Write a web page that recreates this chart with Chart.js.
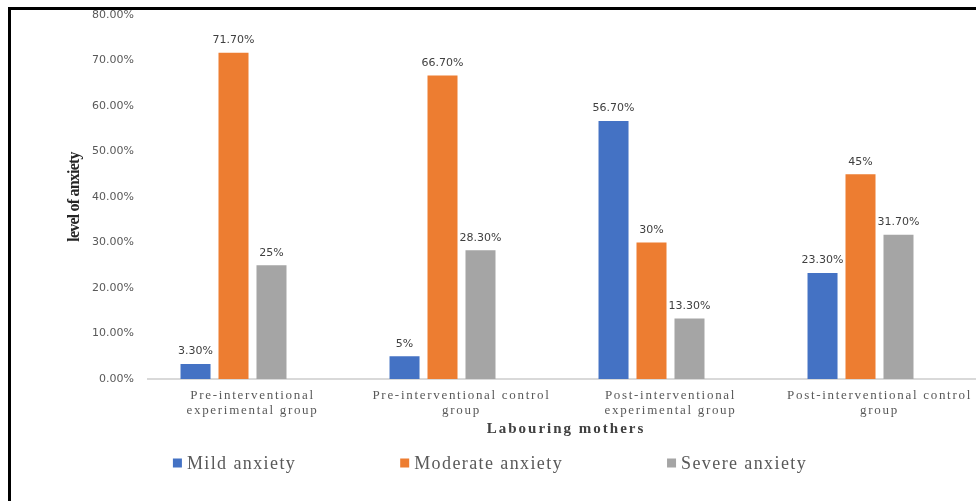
<!DOCTYPE html>
<html>
<head>
<meta charset="utf-8">
<script src="https://cdn.jsdelivr.net/npm/chart.js@4/dist/chart.umd.min.js"></script>
<style>
  html, body { margin: 0; padding: 0; background: #fff; overflow: hidden; }
  #Wrap { position: relative; width: 976px; height: 501px; overflow: hidden; }
  #Frame {
    position: absolute; left: 8px; top: 7px; width: 980px; height: 500px;
    border-left: 3px solid #000; border-top: 3px solid #000;
  }
  #AnxietyChart { position: absolute; left: 0; top: 0; display: block; }
</style>
</head>
<body>
<div id="Wrap">
  <div id="Frame"></div>
  <canvas id="AnxietyChart" width="988" height="501"></canvas>
</div>
<script>
// --- DATA ---
const categories = [
  ["Pre-interventional", "experimental group"],
  ["Pre-interventional control", "group"],
  ["Post-interventional", "experimental group"],
  ["Post-interventional control", "group"],
];
const seriesNames = ["Mild anxiety", "Moderate anxiety", "Severe anxiety"];
const mildValues = [3.3, 5, 56.7, 23.3];
const moderateValues = [71.7, 66.7, 30, 45];
const severeValues = [25, 28.3, 13.3, 31.7];
// empty 4th slot kept by the original chart (bars sit left of each label)
const emptySlot = [null, null, null, null];
const yMax = 80;
const yStep = 10;

const colors = ["#4472C4", "#ED7D31", "#A5A5A5"];

function fmtValue(v) {
  return v % 1 === 0 ? v + "%" : v.toFixed(2) + "%";
}

// wrap a scale draw step so its text gets letter spacing (the source text is spread out)
function spaced(scale, method, spacing) {
  const flag = "_sp_" + method;
  if (scale[flag]) return;
  scale[flag] = true;
  const orig = scale[method];
  scale[method] = function (...args) {
    const c = this.ctx;
    c.save();
    c.letterSpacing = spacing;
    orig.apply(this, args);
    c.restore();
  };
}

// value labels above bars
const valueLabels = {
  id: "valueLabels",
  afterDatasetsDraw(chart) {
    const ctx = chart.ctx;
    ctx.save();
    ctx.font = "11px 'DejaVu Sans'";
    ctx.fillStyle = "#404040";
    ctx.textAlign = "center";
    ctx.textBaseline = "bottom";
    chart.data.datasets.forEach((ds, i) => {
      const meta = chart.getDatasetMeta(i);
      meta.data.forEach((bar, j) => {
        const v = ds.data[j];
        if (v === null || v === undefined) return;
        ctx.fillText(fmtValue(v), bar.x, bar.y - 7);
      });
    });
    ctx.restore();
  },
};

// legend drawn under the axis title, spaced like the original
const wideLegend = {
  id: "wideLegend",
  afterDraw(chart) {
    const ctx = chart.ctx;
    const items = chart.data.datasets.filter((ds) => ds.label);
    const box = 9, gapText = 5, gapItem = 104, cy = 463, cx = 490;
    ctx.save();
    ctx.font = "18px 'Liberation Serif'";
    ctx.letterSpacing = "1.4px";
    ctx.textBaseline = "middle";
    ctx.textAlign = "left";
    const widths = items.map((ds) => box + gapText + ctx.measureText(ds.label).width);
    const total = widths.reduce((a, b) => a + b, 0) + gapItem * (items.length - 1);
    let x = cx - total / 2;
    items.forEach((ds, i) => {
      ctx.fillStyle = ds.backgroundColor;
      ctx.fillRect(x, cy - box / 2, box, box);
      ctx.fillStyle = "#595959";
      ctx.fillText(ds.label, x + box + gapText, cy + 1);
      x += widths[i] + gapItem;
    });
    ctx.restore();
  },
};

const seriesValues = [mildValues, moderateValues, severeValues];
const datasets = seriesNames.map((name, i) => ({
  label: name,
  data: seriesValues[i],
  backgroundColor: colors[i],
}));
datasets.push({ label: "", data: emptySlot, backgroundColor: "rgba(0,0,0,0)" });

const ctx = document.getElementById("AnxietyChart").getContext("2d");
new Chart(ctx, {
  type: "bar",
  data: { labels: categories, datasets: datasets },
  options: {
    responsive: false,
    animation: false,
    categoryPercentage: 0.727,
    barPercentage: 0.79,
    layout: { autoPadding: false, padding: { top: 15, left: 0, right: 4, bottom: 52 } },
    plugins: {
      legend: { display: false },
      tooltip: { enabled: false },
    },
    scales: {
      x: {
        grid: { display: false, drawTicks: false },
        border: { display: true, color: "#D9D9D9", width: 2 },
        ticks: {
          font: { family: "'Liberation Serif'", size: 13, lineHeight: 1.15 },
          color: "#595959",
          padding: 9,
          maxRotation: 0,
          autoSkip: false,
        },
        title: {
          display: true,
          text: "Labouring mothers",
          font: { family: "'Liberation Serif'", size: 15, weight: "bold" },
          color: "#404040",
          padding: { top: 0, bottom: 11 },
        },
        afterFit(scale) {
          scale.height = 70;
          spaced(scale, "drawLabels", "1.7px");
          spaced(scale, "drawTitle", "2px");
        },
      },
      y: {
        min: 0,
        max: yMax,
        // tick marks hidden; tickLength only pushes the labels off the axis
        grid: { display: false, drawTicks: true, tickLength: 14 },
        border: { display: false },
        ticks: {
          stepSize: yStep,
          font: { family: "'DejaVu Sans'", size: 11 },
          color: "#595959",
          padding: 0,
          callback: (v) => v.toFixed(2) + "%",
        },
        title: {
          display: true,
          text: "level of anxiety",
          font: { family: "'Liberation Serif'", size: 16, weight: "bold" },
          color: "#262626",
          padding: { top: 65, bottom: 0 },
        },
        afterFit(scale) {
          scale.width = 148;
          spaced(scale, "drawTitle", "-0.8px");
        },
      },
    },
  },
  plugins: [valueLabels, wideLegend],
});
</script>
</body>
</html>
